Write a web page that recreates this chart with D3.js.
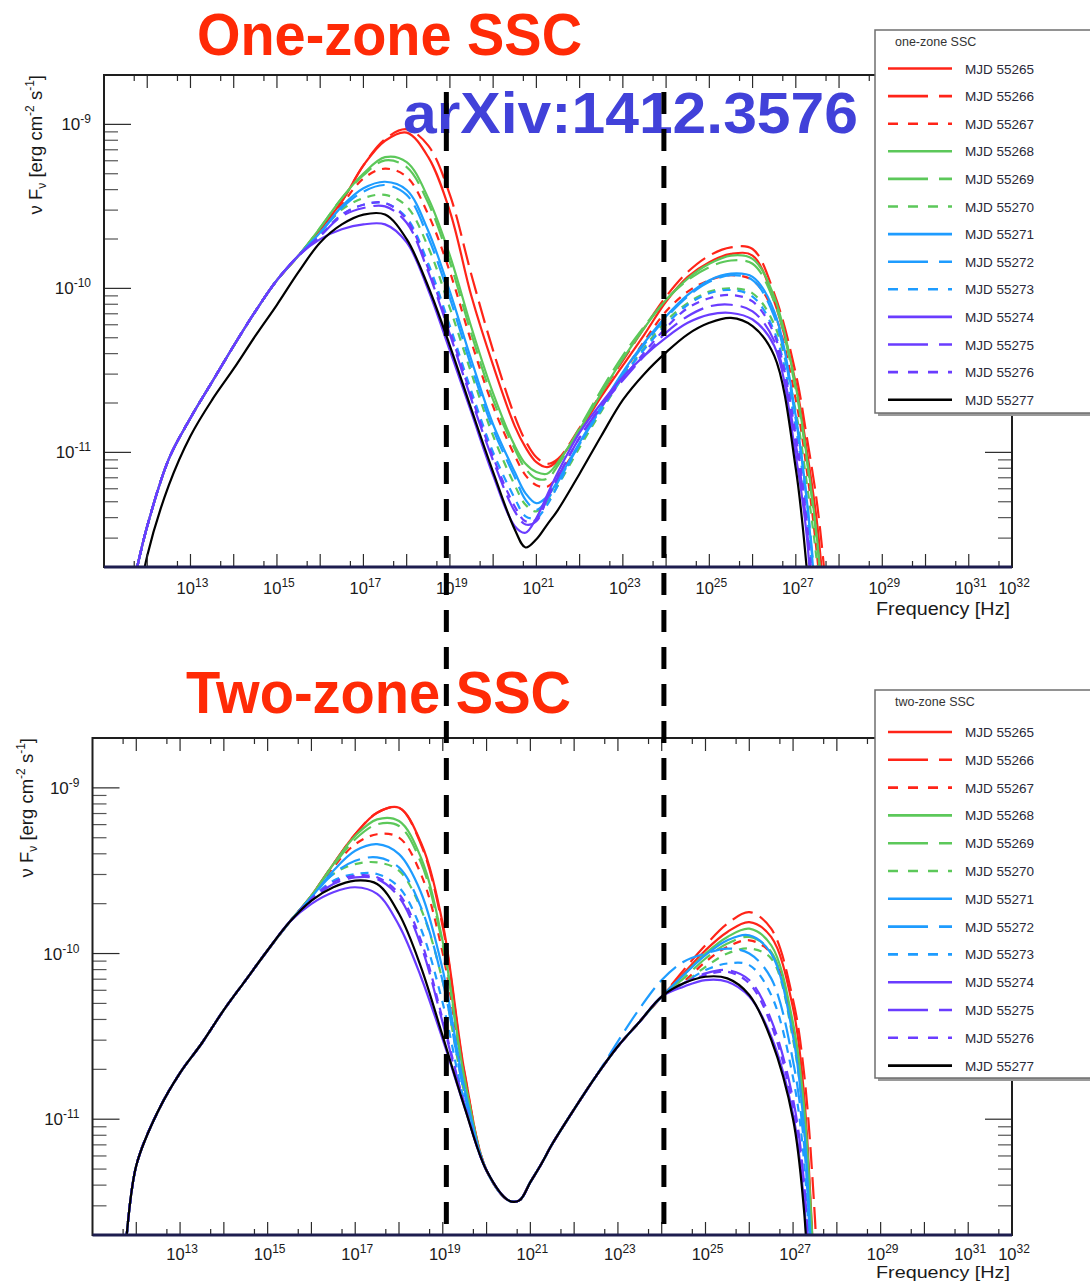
<!DOCTYPE html>
<html>
<head>
<meta charset="utf-8">
<script src="https://cdn.jsdelivr.net/npm/d3@7"></script>
<style>
  body { margin: 0; background: #fff; }
  svg { display: block; }
</style>
</head>
<body>
<svg id="chart" width="1090" height="1282"></svg>
<script>
// log10 of frequency [Hz] at which every model curve is sampled
const logNu = [11.75, 12, 12.5, 13, 13.5, 14, 14.5, 15, 15.5, 16, 16.5, 17, 17.5, 18, 18.5, 19, 19.5, 20,
  20.5, 20.75, 21, 21.25, 21.5, 22, 22.5, 23, 23.5, 24, 24.5, 25, 25.5, 26, 26.5, 27, 27.25, 27.5, 27.75, 28];

const mjdLabels = ["MJD 55265", "MJD 55266", "MJD 55267", "MJD 55268", "MJD 55269", "MJD 55270", "MJD 55271",
  "MJD 55272", "MJD 55273", "MJD 55274", "MJD 55275", "MJD 55276", "MJD 55277"];
const seriesColors = ["#ff2418", "#ff2418", "#ff2418", "#5cc85a", "#5cc85a", "#5cc85a", "#1e9cff",
  "#1e9cff", "#1e9cff", "#6a3cff", "#6a3cff", "#6a3cff", "#000000"];
const seriesStyles = ["solid", "long", "short", "solid", "long", "short", "solid",
  "long", "short", "solid", "long", "short", "solid"];

// log10 of nuF_nu [erg cm^-2 s^-1], one-zone SSC model
const oneZoneRise = [-11.72, -11.45, -11.04, -10.79, -10.57, -10.35, -10.14, -9.95, -9.80];
const oneZone55265 = [...oneZoneRise, -9.64, -9.47, -9.25, -9.10, -9.05, -9.20, -9.53, -10.05, -10.47, -10.84, -10.97, -11.06, -11.09, -11.05, -10.87, -10.66, -10.47, -10.28, -10.08, -9.93, -9.84, -9.79, -9.80, -10.08, -10.58, -10.98, -11.45, -12.2, -13];
const oneZone55266 = [...oneZoneRise, -9.64, -9.47, -9.25, -9.09, -9.03, -9.13, -9.43, -9.92, -10.38, -10.78, -10.93, -11.03, -11.07, -11.04, -10.85, -10.64, -10.44, -10.24, -10.05, -9.90, -9.80, -9.75, -9.76, -10.03, -10.52, -10.90, -11.33, -12.0, -13];
const oneZone55267 = [...oneZoneRise, -9.66, -9.49, -9.33, -9.27, -9.32, -9.55, -9.90, -10.33, -10.72, -11.02, -11.14, -11.20, -11.21, -11.14, -10.95, -10.73, -10.52, -10.32, -10.14, -10.02, -9.95, -9.92, -9.95, -10.15, -10.68, -11.10, -11.65, -12.4, -13];
const oneZone55268 = [...oneZoneRise, -9.63, -9.45, -9.30, -9.20, -9.23, -9.45, -9.80, -10.24, -10.64, -10.96, -11.07, -11.12, -11.13, -11.06, -10.86, -10.64, -10.43, -10.24, -10.07, -9.94, -9.85, -9.80, -9.82, -10.05, -10.60, -11.02, -11.55, -12.3, -13];
const oneZone55269 = [...oneZoneRise, -9.63, -9.45, -9.31, -9.22, -9.26, -9.48, -9.84, -10.28, -10.68, -10.98, -11.10, -11.16, -11.16, -11.08, -10.85, -10.62, -10.41, -10.23, -10.07, -9.95, -9.87, -9.83, -9.85, -10.08, -10.62, -11.04, -11.57, -12.3, -13];
const oneZone55270 = [...oneZoneRise, -9.66, -9.52, -9.45, -9.43, -9.50, -9.75, -10.12, -10.52, -10.90, -11.20, -11.32, -11.36, -11.30, -11.20, -10.97, -10.75, -10.54, -10.36, -10.20, -10.09, -10.02, -10.00, -10.03, -10.22, -10.75, -11.18, -11.70, -12.5, -13];
const oneZone55271 = [...oneZoneRise, -9.66, -9.50, -9.39, -9.35, -9.40, -9.65, -10.02, -10.44, -10.83, -11.12, -11.25, -11.31, -11.27, -11.17, -10.94, -10.72, -10.51, -10.33, -10.17, -10.04, -9.95, -9.91, -9.93, -10.14, -10.78, -11.28, -12.0, -12.6, -13];
const oneZone55272 = [...oneZoneRise, -9.66, -9.51, -9.41, -9.37, -9.43, -9.69, -10.06, -10.48, -10.86, -11.15, -11.29, -11.35, -11.29, -11.18, -10.95, -10.73, -10.52, -10.34, -10.18, -10.05, -9.96, -9.92, -9.95, -10.17, -10.80, -11.28, -11.95, -12.6, -13];
const oneZone55273 = [...oneZoneRise, -9.68, -9.55, -9.49, -9.48, -9.57, -9.85, -10.23, -10.63, -11.00, -11.28, -11.39, -11.40, -11.32, -11.20, -10.95, -10.74, -10.54, -10.37, -10.22, -10.10, -10.03, -10.01, -10.05, -10.26, -10.85, -11.35, -12.1, -12.8, -13];
const oneZone55274 = [...oneZoneRise, -9.70, -9.64, -9.61, -9.61, -9.72, -10.01, -10.38, -10.76, -11.14, -11.45, -11.49, -11.40, -11.26, -11.12, -10.88, -10.70, -10.54, -10.41, -10.30, -10.21, -10.16, -10.15, -10.19, -10.35, -11.02, -11.50, -12.4, -13, -13];
const oneZone55275 = [...oneZoneRise, -9.68, -9.56, -9.51, -9.50, -9.60, -9.90, -10.28, -10.68, -11.05, -11.36, -11.44, -11.42, -11.28, -11.15, -10.91, -10.72, -10.56, -10.41, -10.27, -10.17, -10.11, -10.10, -10.14, -10.32, -10.95, -11.45, -12.3, -13, -13];
const oneZone55276 = [...oneZoneRise, -9.68, -9.55, -9.49, -9.48, -9.58, -9.88, -10.26, -10.66, -11.03, -11.33, -11.42, -11.41, -11.28, -11.15, -10.91, -10.72, -10.55, -10.39, -10.24, -10.12, -10.06, -10.04, -10.08, -10.28, -10.90, -11.42, -12.2, -13, -13];
const oneZone55277 = [-12.0, -11.63, -11.20, -10.90, -10.68, -10.49, -10.29, -10.10, -9.90, -9.72, -9.61, -9.55, -9.55, -9.70, -9.99, -10.35, -10.74, -11.12, -11.47, -11.58, -11.53, -11.44, -11.35, -11.13, -10.90, -10.68, -10.52, -10.39, -10.28, -10.21, -10.18, -10.23, -10.41, -11.10, -11.70, -12.5, -13, -13];

// log10 of nuF_nu [erg cm^-2 s^-1], two-zone SSC model
const twoZoneRise = [-11.80, -11.28, -10.95, -10.72, -10.54, -10.34, -10.16, -9.98, -9.81];
const twoZoneValley = [-11.31, -11.49, -11.49, -11.38, -11.27, -11.15, -10.94, -10.74, -10.56, -10.41, -10.26];
const twoZone55265 = [...twoZoneRise, -9.65, -9.46, -9.28, -9.15, -9.12, -9.33, -9.82, -10.72, ...twoZoneValley, -10.12, -9.98, -9.87, -9.81, -9.90, -10.33, -10.85, -12.0, -13, -13];
const twoZone55266 = [...twoZoneRise, -9.65, -9.46, -9.28, -9.15, -9.12, -9.34, -9.84, -10.73, ...twoZoneValley, -10.10, -9.95, -9.82, -9.75, -9.85, -10.28, -10.72, -11.6, -13, -13];
const twoZone55267 = [...twoZoneRise, -9.66, -9.48, -9.34, -9.28, -9.30, -9.52, -10.00, -10.78, ...twoZoneValley, -10.17, -10.05, -9.96, -9.92, -10.00, -10.45, -10.95, -12.0, -13, -13];
const twoZone55268 = [...twoZoneRise, -9.65, -9.46, -9.29, -9.19, -9.20, -9.42, -9.93, -10.76, ...twoZoneValley, -10.13, -10.00, -9.90, -9.85, -9.95, -10.42, -10.92, -12.0, -13, -13];
const twoZone55269 = [...twoZoneRise, -9.65, -9.47, -9.31, -9.22, -9.23, -9.45, -9.95, -10.77, ...twoZoneValley, -10.15, -10.03, -9.94, -9.90, -9.99, -10.47, -11.00, -12.1, -13, -13];
const twoZone55270 = [...twoZoneRise, -9.66, -9.52, -9.46, -9.45, -9.50, -9.73, -10.17, -10.85, ...twoZoneValley, -10.18, -10.08, -10.00, -9.97, -10.03, -10.52, -11.05, -12.2, -13, -13];
const twoZone55271 = [...twoZoneRise, -9.66, -9.50, -9.38, -9.34, -9.40, -9.63, -10.10, -10.82, ...twoZoneValley, -10.13, -10.01, -9.92, -9.89, -10.00, -10.50, -11.05, -12.2, -13, -13];
const twoZone55272 = [...twoZoneRise, -9.66, -9.52, -9.44, -9.42, -9.48, -9.72, -10.17, -10.85, -11.31, -11.49, -11.49, -11.38, -11.27, -11.15, -10.94, -10.74, -10.53, -10.33, -10.16, -10.05, -10.00, -9.97, -10.00, -10.15, -10.65, -11.15, -12.3, -13, -13];
const twoZone55273 = [...twoZoneRise, -9.67, -9.56, -9.52, -9.52, -9.60, -9.85, -10.30, -10.90, ...twoZoneValley, -10.18, -10.10, -10.06, -10.07, -10.25, -10.75, -11.25, -12.4, -13, -13];
const twoZone55274 = [...twoZoneRise, -9.70, -9.63, -9.60, -9.64, -9.83, -10.14, -10.52, -10.93, ...twoZoneValley, -10.20, -10.16, -10.17, -10.26, -10.50, -10.97, -11.50, -12.6, -13, -13];
const twoZone55275 = [...twoZoneRise, -9.68, -9.58, -9.54, -9.55, -9.66, -9.95, -10.42, -10.92, ...twoZoneValley, -10.18, -10.12, -10.10, -10.16, -10.40, -10.88, -11.38, -12.5, -13, -13];
const twoZone55276 = [...twoZoneRise, -9.67, -9.57, -9.53, -9.54, -9.64, -9.92, -10.40, -10.91, ...twoZoneValley, -10.18, -10.13, -10.11, -10.18, -10.43, -10.92, -11.42, -12.5, -13, -13];
const twoZone55277 = [...twoZoneRise, -9.68, -9.60, -9.56, -9.58, -9.76, -10.08, -10.50, -10.93, ...twoZoneValley, -10.18, -10.14, -10.15, -10.25, -10.52, -11.00, -11.55, -12.6, -13, -13];

// axis ticks
const xDecades = d3.range(12, 32);          // 10^12 .. 10^31
const xHalfDecades = d3.range(11, 32);      // 5 x 10^n
const xLabelExps = [13, 15, 17, 19, 21, 23, 25, 27, 29, 31, 32];
const yDecades = [-11, -10, -9];
const yMinorMantissas = [2, 3, 4, 5, 6, 7, 8, 9];

// guide lines marking the X-ray and gamma-ray bands
const bandEdgesHz = [1e19, 1e24];

const svg = d3.select("#chart");
const AXIS_FONT = "'Liberation Sans', Arial, Helvetica, sans-serif";

const plotDash = { solid: null, long: "22,8", short: "8,7" };
const legendDash = { solid: null, long: "40,11", short: "10,10" };

function drawPanel(cfg) {
  const g = svg.append("g");
  const x = d3.scaleLog().domain([1e11, 1e32]).range([cfg.left, cfg.right]);
  const y = d3.scaleLog().domain([2e-12, 2e-9]).range([cfg.bottom, cfg.top]);

  const clipId = cfg.id + "-clip";
  g.append("clipPath").attr("id", clipId)
    .append("rect")
    .attr("x", cfg.left).attr("y", cfg.top)
    .attr("width", cfg.right - cfg.left).attr("height", cfg.bottom - cfg.top);

  const line = d3.line()
    .x((d, i) => x(Math.pow(10, logNu[i])))
    .y(d => y(Math.pow(10, d)))
    .curve(d3.curveCatmullRom.alpha(0.5));

  const curves = g.append("g").attr("clip-path", `url(#${clipId})`);
  cfg.series.forEach((s, k) => {
    curves.append("path")
      .attr("d", line(s))
      .attr("fill", "none")
      .attr("stroke", seriesColors[k])
      .attr("stroke-width", 2.2)
      .attr("stroke-linejoin", "round")
      .attr("stroke-dasharray", plotDash[seriesStyles[k]]);
  });

  // frame ticks on all four sides
  const ticks = g.append("g").attr("stroke", "#2a2a2a").attr("stroke-width", 1.2);
  const xMajLen = 13, xMinLen = 6, yMajLen = 27, yMinLen = 14;
  xDecades.forEach(n => {
    const px = x(Math.pow(10, n));
    ticks.append("line").attr("x1", px).attr("x2", px).attr("y1", cfg.bottom).attr("y2", cfg.bottom - xMajLen);
    ticks.append("line").attr("x1", px).attr("x2", px).attr("y1", cfg.top).attr("y2", cfg.top + xMajLen);
  });
  xHalfDecades.forEach(n => {
    const px = x(5 * Math.pow(10, n));
    ticks.append("line").attr("x1", px).attr("x2", px).attr("y1", cfg.bottom).attr("y2", cfg.bottom - xMinLen);
    ticks.append("line").attr("x1", px).attr("x2", px).attr("y1", cfg.top).attr("y2", cfg.top + xMinLen);
  });
  yDecades.forEach(n => {
    const py = y(Math.pow(10, n));
    ticks.append("line").attr("x1", cfg.left).attr("x2", cfg.left + yMajLen).attr("y1", py).attr("y2", py);
    ticks.append("line").attr("x1", cfg.right).attr("x2", cfg.right - yMajLen).attr("y1", py).attr("y2", py);
  });
  [-12, -11, -10, -9].forEach(n => {
    yMinorMantissas.forEach(m => {
      const v = m * Math.pow(10, n);
      if (v <= 2.02e-12 || v >= 1.99e-9) return;
      const py = y(v);
      ticks.append("line").attr("x1", cfg.left).attr("x2", cfg.left + yMinLen).attr("y1", py).attr("y2", py)
        .attr("stroke", "#555");
      ticks.append("line").attr("x1", cfg.right).attr("x2", cfg.right - yMinLen).attr("y1", py).attr("y2", py)
        .attr("stroke", "#555");
    });
  });

  g.append("rect")
    .attr("x", cfg.left).attr("y", cfg.top)
    .attr("width", cfg.right - cfg.left).attr("height", cfg.bottom - cfg.top)
    .attr("fill", "none").attr("stroke", "#1e1e1e").attr("stroke-width", 2);
  g.append("line")
    .attr("x1", cfg.left).attr("x2", cfg.right)
    .attr("y1", cfg.bottom).attr("y2", cfg.bottom)
    .attr("stroke", "#1d1d4f").attr("stroke-width", 3);

  // tick labels
  const labels = g.append("g").attr("font-family", AXIS_FONT).attr("fill", "#1a1a1a");
  xLabelExps.forEach(n => {
    const t = labels.append("text")
      .attr("x", x(Math.pow(10, n)) + 2)
      .attr("y", cfg.xLabelY)
      .attr("text-anchor", "middle")
      .attr("font-size", 16.5);
    t.append("tspan").text("10");
    t.append("tspan").attr("dy", -7).attr("font-size", 12).text(n);
  });
  yDecades.forEach(n => {
    const t = labels.append("text")
      .attr("x", cfg.left - 13)
      .attr("y", y(Math.pow(10, n)) + 6)
      .attr("text-anchor", "end")
      .attr("font-size", 17);
    t.append("tspan").text("10");
    t.append("tspan").attr("dy", -7).attr("font-size", 12).text(n);
  });

  // axis titles
  labels.append("text")
    .attr("x", cfg.right - 2)
    .attr("y", cfg.xTitleY)
    .attr("text-anchor", "end")
    .attr("font-size", cfg.xTitleSize)
    .attr("textLength", 134).attr("lengthAdjust", "spacingAndGlyphs")
    .text("Frequency [Hz]");

  const yt = labels.append("text")
    .attr("transform", `translate(${cfg.yTitleX},${cfg.top}) rotate(-90)`)
    .attr("text-anchor", "end")
    .attr("font-size", 18.5);
  yt.append("tspan").text("\u03bd F");
  yt.append("tspan").attr("dy", 4).attr("font-size", 12).text("\u03bd");
  yt.append("tspan").attr("dy", -4).text("  [erg cm");
  yt.append("tspan").attr("dy", -8).attr("font-size", 12).text("-2");
  yt.append("tspan").attr("dy", 8).text(" s");
  yt.append("tspan").attr("dy", -8).attr("font-size", 12).text("-1");
  yt.append("tspan").attr("dy", 8).text("]");

  // legend
  const lg = svg.append("g").attr("font-family", AXIS_FONT);
  const lb = cfg.legend;
  lg.append("rect")
    .attr("x", lb.x + 3).attr("y", lb.y + 3).attr("width", lb.w).attr("height", lb.h)
    .attr("fill", "#9a9a9a");
  lg.append("rect")
    .attr("x", lb.x).attr("y", lb.y).attr("width", lb.w).attr("height", lb.h)
    .attr("fill", "#fff").attr("stroke", "#6f6f6f").attr("stroke-width", 1.5);
  lg.append("text")
    .attr("x", lb.x + 20).attr("y", lb.y + 16)
    .attr("font-size", 12.5).attr("fill", "#333")
    .text(cfg.legendTitle);
  mjdLabels.forEach((lab, k) => {
    const ry = lb.firstRow + k * lb.rowStep;
    lg.append("line")
      .attr("x1", lb.x + 13).attr("x2", lb.x + 77)
      .attr("y1", ry).attr("y2", ry)
      .attr("stroke", seriesColors[k]).attr("stroke-width", 2.6)
      .attr("stroke-dasharray", legendDash[seriesStyles[k]]);
    lg.append("text")
      .attr("x", lb.x + 90).attr("y", ry + 5)
      .attr("font-size", 13.5).attr("fill", "#2a2a3a")
      .text(lab);
  });

  return x;
}

const xTop = drawPanel({
  id: "one", left: 104, right: 1012, top: 75, bottom: 567,
  xLabelY: 594, xTitleY: 615, xTitleSize: 18, yTitleX: 42,
  series: [oneZone55265, oneZone55266, oneZone55267, oneZone55268, oneZone55269, oneZone55270, oneZone55271,
    oneZone55272, oneZone55273, oneZone55274, oneZone55275, oneZone55276, oneZone55277],
  legendTitle: "one-zone SSC",
  legend: { x: 875, y: 30, w: 230, h: 383, firstRow: 68.5, rowStep: 27.6 }
});

const xBot = drawPanel({
  id: "two", left: 92.5, right: 1012, top: 738, bottom: 1235,
  xLabelY: 1259.5, xTitleY: 1278.4, xTitleSize: 16.8, yTitleX: 33,
  series: [twoZone55265, twoZone55266, twoZone55267, twoZone55268, twoZone55269, twoZone55270, twoZone55271,
    twoZone55272, twoZone55273, twoZone55274, twoZone55275, twoZone55276, twoZone55277],
  legendTitle: "two-zone SSC",
  legend: { x: 875, y: 690, w: 230, h: 388, firstRow: 732, rowStep: 27.8 }
});

// panel headings
const TITLE_FONT = "'Liberation Sans', Arial, sans-serif";
svg.append("text")
  .attr("x", 197).attr("y", 55)
  .attr("font-family", TITLE_FONT).attr("font-weight", 700).attr("font-size", 59)
  .attr("fill", "#ff2a06")
  .attr("textLength", 385).attr("lengthAdjust", "spacingAndGlyphs")
  .text("One-zone SSC");
svg.append("text")
  .attr("x", 186).attr("y", 713)
  .attr("font-family", TITLE_FONT).attr("font-weight", 700).attr("font-size", 59)
  .attr("fill", "#ff2a06")
  .attr("textLength", 385).attr("lengthAdjust", "spacingAndGlyphs")
  .text("Two-zone SSC");
svg.append("text")
  .attr("x", 403).attr("y", 133)
  .attr("font-family", TITLE_FONT).attr("font-weight", 700).attr("font-size", 58)
  .attr("fill", "#4141d9")
  .attr("textLength", 455).attr("lengthAdjust", "spacingAndGlyphs")
  .text("arXiv:1412.3576");

// dashed band edges spanning both panels
bandEdgesHz.forEach(f => {
  const px = (xTop(f) + xBot(f)) / 2;
  svg.append("line")
    .attr("x1", px).attr("x2", px)
    .attr("y1", 92).attr("y2", 1235)
    .attr("stroke", "#000").attr("stroke-width", 5)
    .attr("stroke-dasharray", "22,15");
});
</script>
</body>
</html>
